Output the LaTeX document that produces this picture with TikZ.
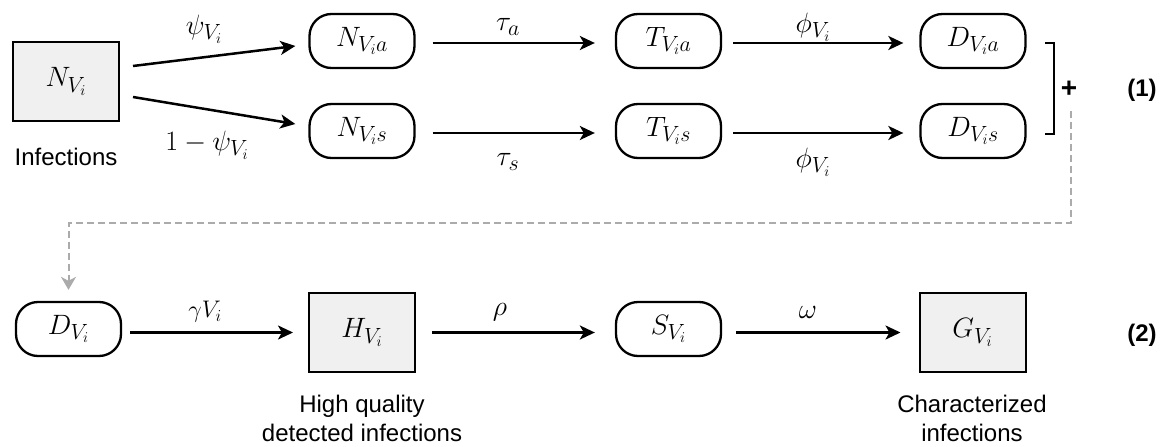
\RequirePackage{fix-cm}
\documentclass[tikz,border=0pt]{standalone}
\usepackage{fontspec}
\setsansfont{Liberation Sans}
\usetikzlibrary{arrows.meta,calc}
\DeclareMathSizes{28}{28}{22}{15}
\definecolor{boxgray}{HTML}{F0F0F0}
\definecolor{dashgray}{HTML}{ABABAB}
\newcommand\mathfs{\fontsize{28}{33}\selectfont}
\tikzset{
  rbox/.style={draw, line width=2.3pt, rounded corners=22pt, minimum width=105pt, minimum height=54pt, inner sep=0pt, font=\mathfs},
  gbox/.style={draw, line width=2pt, fill=boxgray, minimum width=106pt, minimum height=79pt, inner sep=0pt, font=\mathfs},
  arr/.style={line width=2.5pt, -{Stealth[length=15pt,width=14pt,inset=4pt]}},
  lab/.style={font=\mathfs, inner sep=0pt},
  txt/.style={font=\sffamily\fontsize{24}{29}\selectfont, align=center, inner sep=0pt},
  numtxt/.style={font=\sffamily\bfseries\fontsize{24}{29}\selectfont, inner sep=0pt},
  dashline/.style={draw=dashgray, line width=2pt, dash pattern=on 7pt off 4pt, -{Stealth[length=13pt,width=15pt,inset=4pt]}},
}
\begin{document}
\begin{tikzpicture}[x=1pt,y=-1pt]
\useasboundingbox (0,0) rectangle (1163,447);
% row 1
\node[gbox] (NV) at (66,81.5) {$N_{V_i}$};
\node[rbox] (Na) at (362,41) {$N_{V_ia}$};
\node[rbox] (Ns) at (362,131) {$N_{V_is}$};
\node[rbox] (Ta) at (668.5,41) {$T_{V_ia}$};
\node[rbox] (Ts) at (668.5,131) {$T_{V_is}$};
\node[rbox] (Da) at (973,41) {$D_{V_ia}$};
\node[rbox] (Ds) at (973,131) {$D_{V_is}$};
\node[txt] (infl) at (66,157) {Infections};

\draw[arr] ($(NV.east)+(13,-15.5)$) -- ($(Na.west)+(-13,5)$);
\draw[arr] ($(NV.east)+(13,15.5)$) -- ($(Ns.west)+(-13,-7)$);
\draw[arr] ($(Na.east)+(17,2)$) -- ($(Ta.west)+(-20,2)$);
\draw[arr] ($(Ns.east)+(17,2)$) -- ($(Ts.west)+(-20,2)$);
\draw[arr] ($(Ta.east)+(11,2)$) -- ($(Da.west)+(-16,2)$);
\draw[arr] ($(Ts.east)+(11,2)$) -- ($(Ds.west)+(-16,2)$);

\node[lab] (lpsi) at (204,29) {$\psi_{V_i}$};
\node[lab] (lpsi2) at (207,145) {$1-\psi_{V_i}$};
\node[lab] (lta) at (508,27) {$\tau_a$};
\node[lab] (lts) at (508,162) {$\tau_s$};
\node[lab] (lpa) at (813,27) {$\phi_{V_i}$};
\node[lab] (lps) at (813,162) {$\phi_{V_i}$};

% bracket and plus
\draw[line width=2.3pt] (1045,43) -- (1054,43) -- (1054,134) -- (1045,134);
\node[numtxt, font=\sffamily\bfseries\fontsize{28}{30}\selectfont] (plus) at (1069,89) {+};
\node[numtxt] (n1) at (1142,90) {(1)};

% row 2
\node[rbox] (DV) at (68.5,329) {$D_{V_i}$};
\node[gbox] (HV) at (362,332.5) {$H_{V_i}$};
\node[rbox] (SV) at (668.5,329) {$S_{V_i}$};
\node[gbox] (GV) at (972.5,332.5) {$G_{V_i}$};

% dashed connector
\coordinate (dstart) at (1071,111);
\coordinate (dturn) at (1071,223);
\draw[dashline] (dstart) -- (dturn) -| ([yshift=11pt]DV.north);

\draw[arr] ($(DV.east |- HV.center)+(8,0)$) -- ($(HV.west)+(-15,0)$);
\draw[arr] ($(HV.east)+(16,0)$) -- ($(SV.west |- HV.center)+(-20,0)$);
\draw[arr] ($(SV.east |- GV.center)+(14,0)$) -- ($(GV.west)+(-18,0)$);

\node[lab, font=\fontsize{24}{28}\selectfont] (lg) at (205,312) {$\gamma V_i$};
\node[lab] (lr) at (500,312) {$\rho$};
\node[lab] (lw) at (808,312) {$\omega$};

\node[txt] (hq) at (362,418) {High quality\\detected infections};
\node[txt] (ch) at (972,418) {Characterized\\infections};
\node[numtxt] (n2) at (1142,335) {(2)};
\end{tikzpicture}
\end{document}
